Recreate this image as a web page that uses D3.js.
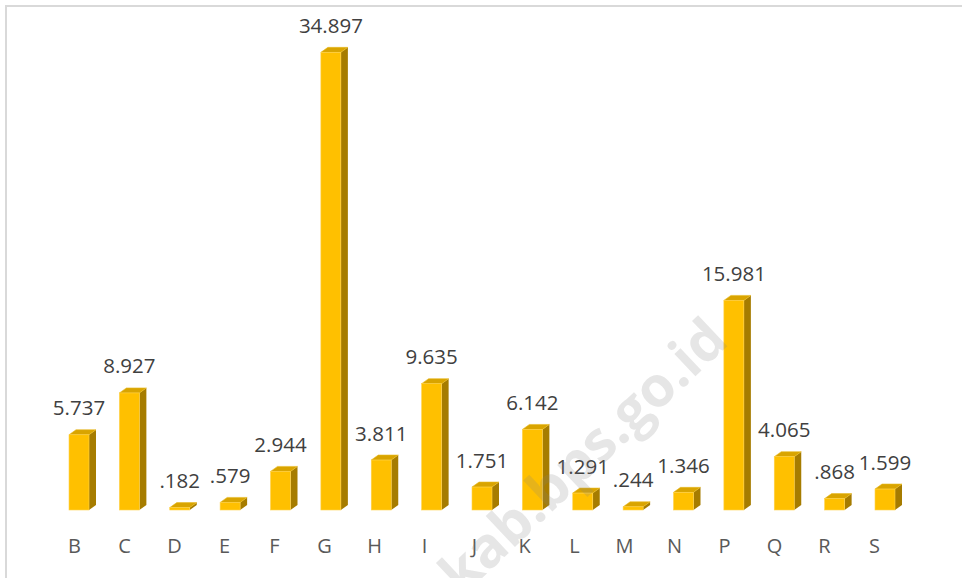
<!DOCTYPE html>
<html>
<head>
<meta charset="utf-8">
<script src="https://cdn.jsdelivr.net/npm/d3@7"></script>
<style>
  body { margin: 0; background: #fff; }
  svg { display: block; }
</style>
</head>
<body>
<div id="chart"></div>
<script>
// categories (KBLI sectors) and values
var categories = ["B","C","D","E","F","G","H","I","J","K","L","M","N","P","Q","R","S"];
var values = [5.737, 8.927, 0.182, 0.579, 2.944, 34.897, 3.811, 9.635, 1.751, 6.142, 1.291, 0.244, 1.346, 15.981, 4.065, 0.868, 1.599];
var valueLabels = ["5.737","8.927",".182",".579","2.944","34.897","3.811","9.635","1.751","6.142","1.291",".244","1.346","15.981","4.065",".868","1.599"];

var width = 962, height = 578;
var baseY = 510;
var barW = 20, depthX = 7, depthY = 5;

var svg = d3.select("#chart").append("svg")
    .attr("width", width).attr("height", height);

svg.append("rect").attr("width", width).attr("height", height).attr("fill", "#fff");

// chart frame (only top and left edges are inside the picture)
svg.append("rect").attr("x", 6).attr("y", 6).attr("width", width + 20).attr("height", height + 20)
    .attr("fill", "none").attr("stroke", "#d9d9d9").attr("stroke-width", 2);

// scales: bars sit a bit to the right of the labels (3d perspective)
var xBar = d3.scalePoint().domain(categories).range([79, 885]);
var xLab = d3.scalePoint().domain(categories).range([74, 874]);
var y = d3.scaleLinear().domain([0, 35]).range([baseY, 51]);

var bars = svg.append("g").attr("class", "bars")
    .selectAll("g").data(categories).enter().append("g");

function frontX(d){ return xBar(d) - barW/2; }
function topY(i){ return y(values[i]); }

// right side
bars.append("path")
    .attr("d", function(d, i){
        var x1 = frontX(d) + barW, yt = topY(i);
        return "M" + x1 + "," + baseY + "L" + x1 + "," + yt + "L" + (x1+depthX) + "," + (yt-depthY) +
            "L" + (x1+depthX) + "," + (baseY-depthY) + "Z";
    })
    .attr("fill", "#a67c00");

// top
bars.append("path")
    .attr("d", function(d, i){
        var x0 = frontX(d), yt = topY(i);
        return "M" + x0 + "," + yt + "L" + (x0+barW) + "," + yt + "L" + (x0+barW+depthX) + "," + (yt-depthY) +
            "L" + (x0+depthX) + "," + (yt-depthY) + "Z";
    })
    .attr("fill", "#d9a400").attr("stroke", "#e8b820").attr("stroke-width", 0.6);

// front
bars.append("rect")
    .attr("x", frontX)
    .attr("y", function(d, i){ return topY(i); })
    .attr("width", barW)
    .attr("height", function(d, i){ return baseY - topY(i); })
    .attr("fill", "#ffc000").attr("stroke", "#ffd24d").attr("stroke-width", 0.6);

// value labels
svg.append("g").attr("class", "vlabels")
    .selectAll("text").data(categories).enter().append("text")
    .attr("x", function(d){ return xBar(d); })
    .attr("y", function(d, i){ return topY(i) - depthY - 14.5; })
    .attr("text-anchor", "middle")
    .style("font-family", "'Open Sans', sans-serif").style("font-size", "20.5px")
    .style("fill", "#404040")
    .text(function(d, i){ return valueLabels[i]; });

// category axis
var axis = svg.append("g").attr("transform", "translate(0,539)")
    .call(d3.axisBottom(xLab).tickSize(0).tickPadding(0));
axis.select(".domain").remove();
axis.selectAll("text")
    .attr("dy", "0.71em")
    .style("font-family", "'Open Sans', sans-serif").style("font-size", "20px")
    .style("fill", "#595959");

// watermark
svg.append("text")
    .attr("transform", "translate(462,597)rotate(-43.4)")
    .style("font-family", "'Open Sans', sans-serif").style("font-weight", "bold")
    .style("font-size", "56px").style("fill", "#808080").style("fill-opacity", 0.2)
    .text("kab.bps.go.id");
</script>
</body>
</html>
